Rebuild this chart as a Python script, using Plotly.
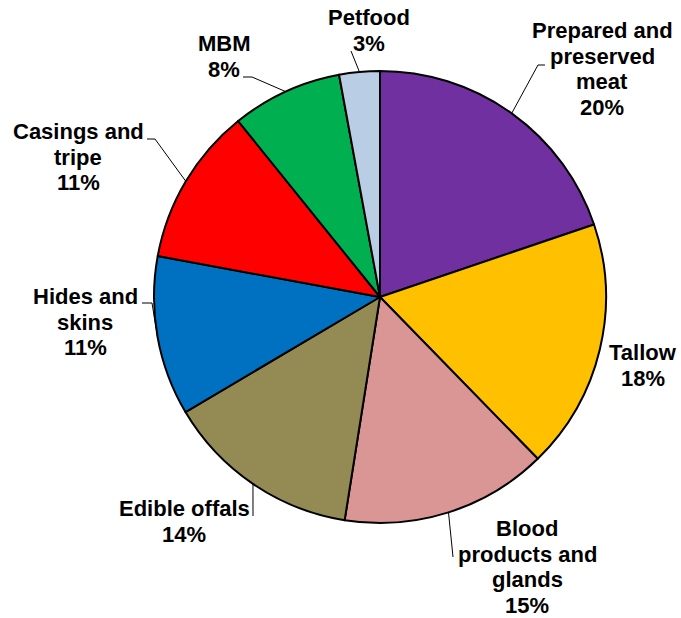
import math
import plotly.graph_objects as go

# ---------------- data ----------------
categories = ["Prepared and preserved meat", "Tallow", "Blood products and glands",
              "Edible offals", "Hides and skins", "Casings and tripe", "MBM", "Petfood"]
shares = [19.8, 17.9, 14.8, 14.0, 11.4, 11.3, 7.9, 2.9]
label_lines = [["Prepared and", "preserved", "meat"], ["Tallow"],
               ["Blood", "products and", "glands"], ["Edible offals"],
               ["Hides and", "skins"], ["Casings and", "tripe"], ["MBM"], ["Petfood"]]

# ---------------- styles / layout ----------------
colors = ["#7030A0", "#FFC000", "#DA9694", "#948A54", "#0070C0", "#FF0000", "#00B050", "#B9CDE5"]
W, H = 681, 618
CX, CY, R = 380, 297, 226
FONT = dict(family="Liberation Sans, Arial, sans-serif", size=22, color="black", weight=700)
LINE_H = 25.7
# label block: centre x, first baseline y (pixels)
label_pos = [(602, 38), (643, 360), (527, 536), (184, 516),
             (85, 304), (78, 139), (224, 51), (369, 25)]
# leader line points (pixels) from label side; slice point is computed
leaders = [[(545, 65), (538, 65)], None, [(453, 557)], [(253, 516)],
           [(142, 303), (152, 303)], [(147, 139), (155, 139)],
           [(243, 77), (252, 77)], [(351, 51)]]


def px(x):
    return x / W


def py(y):
    return 1 - y / H


fig = go.Figure(go.Pie(
    labels=categories, values=shares, sort=False, direction="clockwise", rotation=0,
    marker=dict(colors=colors, line=dict(color="black", width=2)),
    textinfo="none", hoverinfo="label+percent", showlegend=False,
    domain=dict(x=[px(CX - R), px(CX + R)], y=[py(CY + R), py(CY - R)]),
))

total = sum(shares)
annotations = []
shapes = []
cum = 0.0
for i, v in enumerate(shares):
    mid = (cum + v / 2) / total * 2 * math.pi
    cum += v
    pct = f"{round(v / total * 100)}%"
    lines = label_lines[i] + [pct]
    lx, ly = label_pos[i]
    for k, t in enumerate(lines):
        base = ly + k * LINE_H
        annotations.append(dict(
            x=px(lx), y=py(base - 7.6), xref="paper", yref="paper",
            text=t, showarrow=False, xanchor="center", yanchor="middle",
            font=FONT))
    if leaders[i]:
        sx = CX + R * math.sin(mid)
        sy = CY - R * math.cos(mid)
        pts = leaders[i] + [(sx, sy)]
        path = "M " + " L ".join(f"{px(a)},{py(b)}" for a, b in pts)
        shapes.append(dict(type="path", path=path, xref="paper", yref="paper",
                           line=dict(color="black", width=1)))

fig.update_layout(
    width=W, height=H, margin=dict(l=0, r=0, t=0, b=0),
    paper_bgcolor="white", plot_bgcolor="white",
    annotations=annotations, shapes=shapes,
)
fig.write_html("out.html", config={"displayModeBar": False},
               post_script="document.body.style.margin='0';document.body.style.overflow='hidden';")
